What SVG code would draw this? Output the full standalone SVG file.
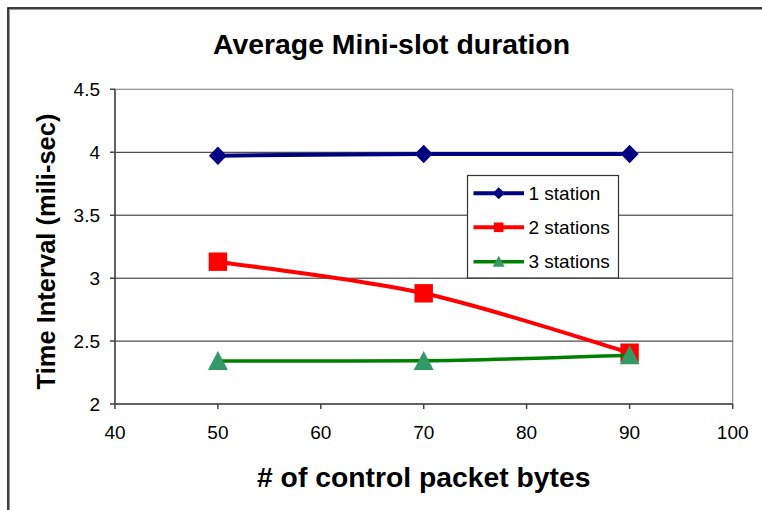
<svg xmlns="http://www.w3.org/2000/svg" width="762" height="510" viewBox="0 0 762 510">
  <style>
    .txt { font-family: "Liberation Sans", Arial, sans-serif; fill: #000; }
    .tick { font-size: 19px; }
    .ttl { font-weight: bold; }
    .grid { stroke: #222; stroke-width: 1; fill: none; }
    .axis { stroke: #444; stroke-width: 1.5; fill: none; }
    .s1 { stroke: #000080; stroke-width: 4; fill: none; }
    .s2 { stroke: #FF0000; stroke-width: 4; fill: none; }
    .s3 { stroke: #008000; stroke-width: 3.5; fill: none; }
    .m1 { fill: #000080; }
    .m2 { fill: #FF0000; }
    .m3 { fill: #339966; }
  </style>
  <defs>
    <path id="dia" d="M0,-9.2 L9,0 L0,9.2 L-9,0 Z"/>
    <rect id="sq" x="-9.2" y="-9.2" width="18.4" height="18.4"/>
    <path id="tri" d="M0,-10 L10,9 L-10,9 Z"/>
    <path id="diaS" d="M0,-6 L6,0 L0,6 L-6,0 Z"/>
    <rect id="sqS" x="-4.8" y="-4.8" width="9.6" height="9.6"/>
    <path id="triS" d="M0,-6 L6,5 L-6,5 Z"/>
  </defs>

  <!-- chart frame -->
  <rect x="0" y="0" width="762" height="510" fill="#fff"/>
  <rect x="8" y="8" width="780" height="540" fill="none" stroke="#000" stroke-width="1.5"/>
  <rect x="9.5" y="9.5" width="780" height="540" fill="none" stroke="#999" stroke-width="1"/>

  <!-- title -->
  <text class="txt ttl" x="391.5" y="54.3" font-size="28.4" text-anchor="middle">Average Mini-slot duration</text>

  <!-- plot area -->
  <g id="plot">
    <rect x="115" y="89.3" width="617.7" height="314.7" fill="#fff" stroke="#8a8a8a" stroke-width="1.2"/>
    <g id="gridlines">
      <line class="grid" x1="115" y1="152.3" x2="732.7" y2="152.3"/>
      <line class="grid" x1="115" y1="215.2" x2="732.7" y2="215.2"/>
      <line class="grid" x1="115" y1="278.2" x2="732.7" y2="278.2"/>
      <line class="grid" x1="115" y1="341.1" x2="732.7" y2="341.1"/>
    </g>
    <g id="axes">
      <line class="axis" x1="115" y1="89.3" x2="115" y2="404"/>
      <line class="axis" x1="115" y1="404" x2="732.7" y2="404"/>
      <path class="axis" d="M110,89.3 H115 M110,152.3 H115 M110,215.2 H115 M110,278.2 H115 M110,341.1 H115 M110,404 H115"/>
      <path class="axis" d="M115,404 V409 M217.9,404 V409 M320.8,404 V409 M423.7,404 V409 M526.6,404 V409 M629.6,404 V409 M732.7,404 V409"/>
    </g>
  </g>

  <!-- y tick labels -->
  <g id="ylabels" class="txt tick" text-anchor="end">
    <text x="100" y="96">4.5</text>
    <text x="100" y="159">4</text>
    <text x="100" y="222">3.5</text>
    <text x="100" y="285">3</text>
    <text x="100" y="348">2.5</text>
    <text x="100" y="411">2</text>
  </g>

  <!-- x tick labels -->
  <g id="xlabels" class="txt tick" text-anchor="middle">
    <text x="115" y="438.5">40</text>
    <text x="217.9" y="438.5">50</text>
    <text x="320.8" y="438.5">60</text>
    <text x="423.7" y="438.5">70</text>
    <text x="526.6" y="438.5">80</text>
    <text x="629.6" y="438.5">90</text>
    <text x="732.7" y="438.5">100</text>
  </g>

  <!-- axis titles -->
  <text class="txt ttl" x="423.7" y="487.3" font-size="28.3" text-anchor="middle"># of control packet bytes</text>
  <text class="txt ttl" transform="translate(55,251.5) rotate(-90)" font-size="25.5" text-anchor="middle">Time Interval (mili-sec)</text>

  <!-- data series -->
  <g id="series-1">
    <path class="s1" d="M217.9,155.7 C252.2,155.4 355.1,154.3 423.7,154 C492.3,154 595.3,154 629.6,154"/>
    <use href="#dia" class="m1" x="217.9" y="155.7"/>
    <use href="#dia" class="m1" x="423.7" y="154"/>
    <use href="#dia" class="m1" x="629.6" y="154"/>
  </g>
  <g id="series-2">
    <path class="s2" d="M217.9,261.7 C252.2,267 355.1,278.1 423.7,293.3 C492.3,308.5 595.3,342.8 629.6,352.7"/>
    <use href="#sq" class="m2" x="217.9" y="261.7"/>
    <use href="#sq" class="m2" x="423.7" y="293.3"/>
    <use href="#sq" class="m2" x="629.6" y="352.7"/>
  </g>
  <g id="series-3">
    <path class="s3" d="M217.9,361 C252.2,361 355.1,361 423.7,360.8 C492.3,360.3 595.3,356.2 629.6,355.3"/>
    <use href="#tri" class="m3" x="217.9" y="361"/>
    <use href="#tri" class="m3" x="423.7" y="361"/>
    <use href="#tri" class="m3" x="629.6" y="355.3"/>
  </g>

  <!-- legend -->
  <g id="legend">
    <rect x="467.5" y="175.5" width="151" height="102.5" fill="#fff" stroke="#333" stroke-width="1.2"/>
    <line class="s1" x1="473.5" y1="193.3" x2="524" y2="193.3" stroke-width="3"/>
    <use href="#diaS" class="m1" x="498.7" y="193.3"/>
    <text class="txt tick" x="528.5" y="199.5">1 station</text>
    <line class="s2" x1="473.5" y1="227.3" x2="524" y2="227.3" stroke-width="3"/>
    <use href="#sqS" class="m2" x="498.7" y="227.3"/>
    <text class="txt tick" x="528.5" y="233.5">2 stations</text>
    <line class="s3" x1="473.5" y1="261.7" x2="524" y2="261.7" stroke-width="3"/>
    <use href="#triS" class="m3" x="498.7" y="261.7"/>
    <text class="txt tick" x="528.5" y="267.5">3 stations</text>
  </g>
</svg>
